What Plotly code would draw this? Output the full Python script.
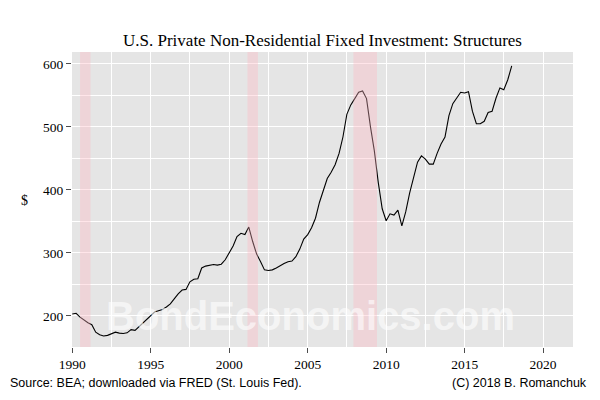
import pandas as pd
import plotly.graph_objects as go

# Quarterly data, 1990Q1 .. 2018Q1 ($ billions)
start_date = "1990-01-01"
values = [
    203, 204, 198, 193,      # 1990
    189, 186, 174, 170,      # 1991
    168, 169, 172, 174,      # 1992
    172.5, 172, 173, 178,    # 1993
    177, 183, 188, 195,      # 1994
    200, 206, 208, 210,      # 1995
    214, 219, 227, 235,      # 1996
    241, 242, 254, 258,      # 1997
    259, 276, 279, 280,      # 1998
    281.5, 280.5, 282, 289,  # 1999
    300, 311, 326, 331,      # 2000
    329, 341, 318, 298,      # 2001
    286, 273, 272, 273,      # 2002
    276, 280, 283, 286,      # 2003
    287, 294, 306, 322,      # 2004
    329, 340, 355, 380,      # 2005
    400, 418, 428, 440,      # 2006
    458, 484, 520, 535,      # 2007
    545, 555, 557, 545,      # 2008
    500, 462, 412, 370,      # 2009
    351, 362, 360, 368,      # 2010
    343, 365, 395, 420,      # 2011
    444, 454, 449, 441,      # 2012
    441, 458, 473, 484,      # 2013
    518, 537, 546, 555,      # 2014
    554, 556, 525, 505,      # 2015
    505, 509, 523, 525,      # 2016
    546, 562, 559, 575,      # 2017
    597,                     # 2018
]
dates = pd.date_range(start_date, periods=len(values), freq="QS")

recession_starts = ["1990-07-01", "2001-03-01", "2007-12-01"]
recession_ends = ["1991-03-01", "2001-11-01", "2009-06-01"]

x_tick_years = [1990, 1995, 2000, 2005, 2010, 2015, 2020]
x_minor_dates = ["1992-07-01", "1997-07-01", "2002-07-01", "2007-07-01",
                 "2012-07-01", "2017-07-01"]
y_ticks = [200, 300, 400, 500, 600]
y_minor = [150, 250, 350, 450, 550]

title_text = "U.S. Private Non-Residential Fixed Investment: Structures"
source_text = "Source: BEA; downloaded via FRED (St. Louis Fed)."
copyright_text = "(C) 2018 B. Romanchuk"
watermark_text = "BondEconomics.com"

fig = go.Figure()
fig.add_trace(go.Scatter(x=dates, y=values, mode="lines",
                         line=dict(color="black", width=1.1),
                         showlegend=False, hoverinfo="skip"))

for s, e in zip(recession_starts, recession_ends):
    fig.add_shape(type="rect", xref="x", yref="paper", x0=s, x1=e, y0=0, y1=1,
                  fillcolor="rgba(255,182,193,0.36)", line=dict(width=0),
                  layer="above")

serif = "Liberation Serif, Times New Roman, serif"
sans = "Liberation Sans, Arial, sans-serif"

# page body has an 8px default margin, so the figure is sized to fit the window
fig.update_layout(
    width=592, height=392,
    margin=dict(l=64, r=27, t=44, b=53),
    paper_bgcolor="white",
    plot_bgcolor="#e5e5e5",
    title=dict(text=title_text, x=0.5, xref="paper", xanchor="center",
               y=1 - 32 / 392, yref="container", yanchor="middle",
               font=dict(family=serif, size=17, color="black")),
    xaxis=dict(
        type="date",
        range=["1989-12-26", "2021-11-27"],
        tickmode="array",
        tickvals=[f"{y}-01-01" for y in x_tick_years],
        ticktext=[str(y) for y in x_tick_years],
        showgrid=True, gridcolor="white", gridwidth=1.2,
        minor=dict(tickmode="array", tickvals=x_minor_dates, showgrid=True,
                   gridcolor="white", gridwidth=0.5, ticks=""),
        zeroline=False, showline=False,
        ticks="outside", ticklen=5, tickcolor="#4d4d4d", tickwidth=1,
        tickfont=dict(family=serif, size=13.5, color="black"),
    ),
    yaxis=dict(
        range=[150.5, 619],
        tickmode="array", tickvals=y_ticks,
        showgrid=True, gridcolor="white", gridwidth=1.2,
        minor=dict(tickmode="array", tickvals=y_minor, showgrid=True,
                   gridcolor="white", gridwidth=0.5, ticks=""),
        zeroline=False, showline=False,
        ticks="outside", ticklen=5, tickcolor="#4d4d4d", tickwidth=1,
        tickfont=dict(family=serif, size=13.5, color="black"),
    ),
    annotations=[
        dict(text=watermark_text, xref="paper", yref="paper", x=0.477, y=0.105,
             xanchor="center", yanchor="middle", showarrow=False,
             font=dict(family="Liberation Sans Narrow, Arial Narrow, Liberation Sans, sans-serif",
                       size=40, color="rgba(255,255,255,0.6)", weight="bold")),
        dict(text="$", xref="paper", yref="paper", x=(25 - 72) / 500.7,
             y=(347 - 200) / 295, xanchor="center", yanchor="middle",
             showarrow=False, font=dict(family=serif, size=14, color="black")),
        dict(text=source_text, xref="paper", yref="paper", x=-64 / 500.7,
             y=(347 - 383) / 295, xanchor="left", yanchor="middle",
             showarrow=False, font=dict(family=sans, size=12.5, color="black")),
        dict(text=copyright_text, xref="paper", yref="paper", x=(589 - 72) / 500.7,
             y=(347 - 383) / 295, xanchor="right", yanchor="middle",
             showarrow=False, font=dict(family=sans, size=12.5, color="black")),
    ],
)

fig.write_html("out.html")
